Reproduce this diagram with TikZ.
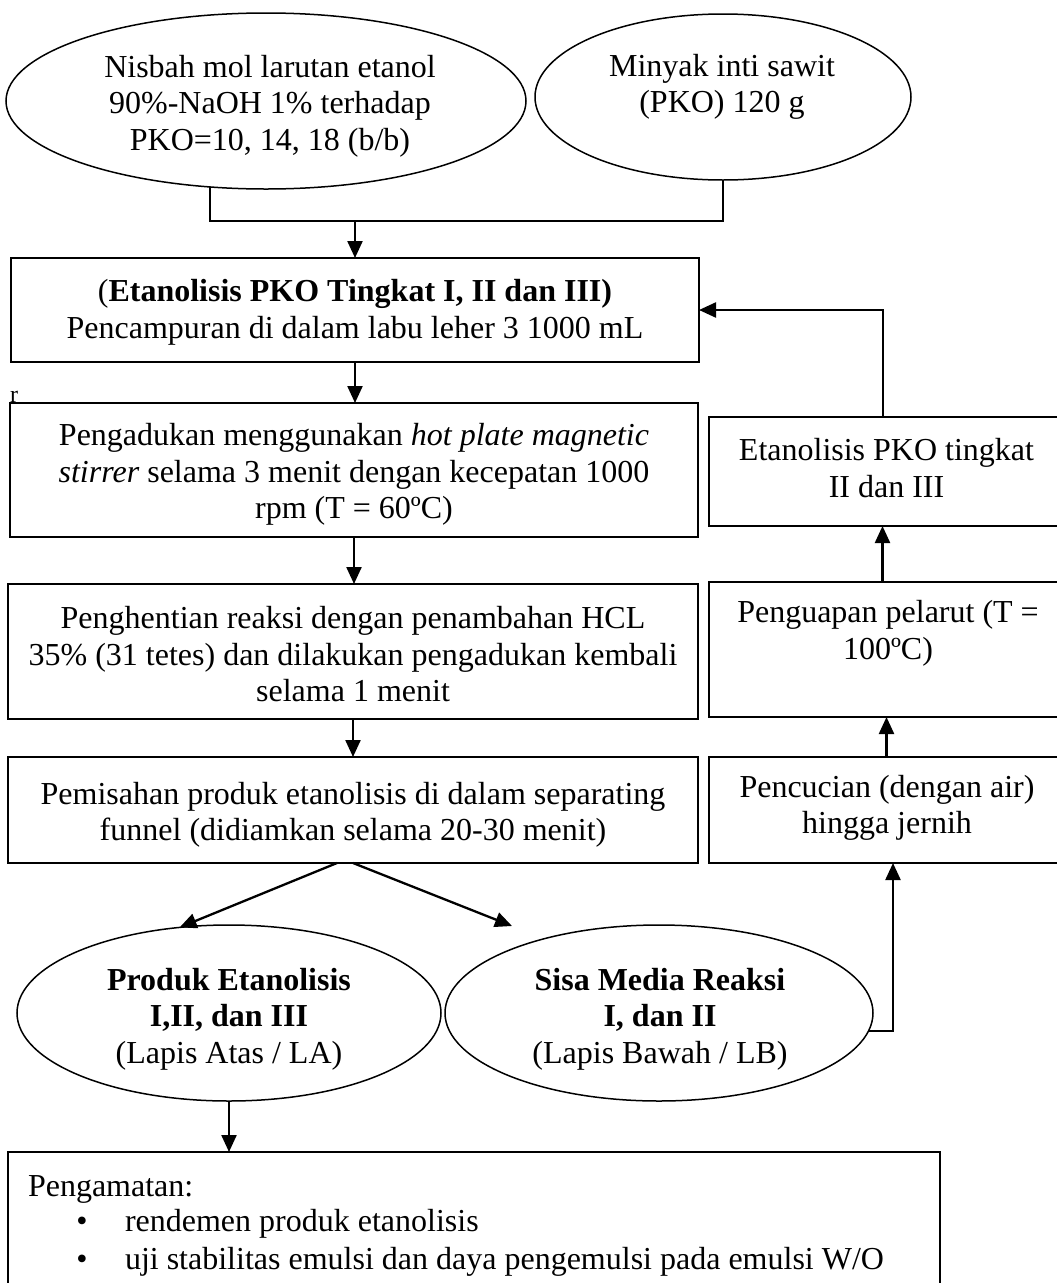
\documentclass[tikz,border=0pt]{standalone}
\usepackage{fontspec}
\setmainfont{Liberation Serif}
\usetikzlibrary{arrows.meta,shapes.geometric,calc}
\begin{document}
\begin{tikzpicture}[x=1pt,y=-1pt,
  every node/.style={font=\fontsize{32}{36.5}\selectfont, inner sep=0pt, outer sep=0pt},
  box/.style={draw, line width=1.8pt, rectangle},
  ell/.style={draw, line width=1.5pt, ellipse},
  txt/.style={align=center},
  link/.style={line width=1.7pt},
  arr/.style={line width=2.3pt, -{Triangle[length=17pt,width=15pt]}}
]
\useasboundingbox (0,0) rectangle (1057,1283);

% top ellipses
\node[ell, minimum width=520pt, minimum height=176pt] (e1) at (266,101) {};
\node[txt] (e1t) at (270,106) {Nisbah mol larutan etanol\\90\%-NaOH 1\% terhadap\\PKO=10, 14, 18 (b/b)};
\node[ell, minimum width=376pt, minimum height=166pt] (e2) at (723,97) {};
\node[txt] (e2t) at (722,87) {Minyak inti sawit\\(PKO) 120 g};

% main column
\node[box, minimum width=688pt, minimum height=104pt] (b1) at (355,310) {};
\node[txt] (b1t) at ($(b1)+(0,2.5)$)
  {(\textbf{Etanolisis PKO Tingkat I, II dan III)}\\Pencampuran di dalam labu leher 3 1000 mL};
\node[anchor=base west, font=\fontsize{24}{28}\selectfont] (rr) at (10,402) {r};
\node[box, minimum width=688pt, minimum height=134pt] (b2) at (354,470) {};
\node[txt] (b2t) at ($(b2)+(0,4.4)$)
  {Pengadukan menggunakan \textit{hot plate magnetic}\\\textit{stirrer} selama 3 menit dengan kecepatan 1000\\rpm (T = 60ºC)};
\node[box, minimum width=690pt, minimum height=135pt] (b3) at (353,651.5) {};
\node[txt] (b3t) at ($(b3)+(0,3)$)
  {Penghentian reaksi dengan penambahan HCL\\35\% (31 tetes) dan dilakukan pengadukan kembali\\selama 1 menit};
\node[box, minimum width=690pt, minimum height=106pt] (b4) at (353,810) {};
\node[txt] (b4t) at ($(b4)+(0,5)$)
  {Pemisahan produk etanolisis di dalam separating\\funnel (didiamkan selama 20-30 menit)};

% right column
\node[box, minimum width=355pt, minimum height=109pt] (r1) at (886.5,471.5) {};
\node[txt] (r1t) at (886.5,468) {Etanolisis PKO tingkat\\II dan III};
\node[box, minimum width=355pt, minimum height=135pt] (r2) at (886.5,649.5) {};
\node[txt] (r2t) at (888,633.5) {Penguapan pelarut (T =\\100ºC)};
\node[box, minimum width=355pt, minimum height=106pt] (r3) at (886.5,810) {};
\node[txt] (r3t) at (887,808) {Pencucian (dengan air)\\hingga jernih};

% bottom ellipses
\node[ell, minimum width=424pt, minimum height=176pt] (eb1) at (229,1013) {};
\node[txt] (eb1t) at (229,1019) {\textbf{Produk Etanolisis}\\\textbf{I,II, dan III}\\(Lapis Atas / LA)};
\node[ell, minimum width=428pt, minimum height=176pt] (eb2) at (659,1013) {};
\node[txt] (eb2t) at (660,1019) {\textbf{Sisa Media Reaksi}\\\textbf{I, dan II}\\(Lapis Bawah / LB)};

% observation box
\node[box, minimum width=932pt, minimum height=148pt] (b5) at (474,1226) {};
\node[anchor=base west] (p0) at (28,1196) {Pengamatan:};
\node[anchor=base] (u1) at (82,1231) {•};
\node[anchor=base west] (p1) at (125,1231) {rendemen produk etanolisis};
\node[anchor=base] (u2) at (82,1269) {•};
\node[anchor=base west] (p2) at (125,1269) {uji stabilitas emulsi dan daya pengemulsi pada emulsi W/O};

% connectors
\coordinate (j1) at (211,221);
\coordinate (t2) at (512,926);
\draw[link] (e1.237) |- (j1) -| (e2.south);
\draw[arr] (b1.north |- j1) -- (b1.north);
\draw[arr] (b1.south) -- (b1.south |- b2.north);
\draw[arr] (b2.south) -- (b2.south |- b3.north);
\draw[arr] (b3.south) -- (b3.south |- b4.north);
\draw[arr] ($(b4.south)+(-16,0)$) -- (eb1.120);
\draw[arr] (b4.south) -- (t2);
\draw[arr] (eb1.south) -- (eb1.south |- b5.north);
\draw[arr] (eb2.355) -| ($(r3.south)+(6.5,0)$);
\draw[arr] (r3.north) -- (r2.south);
\draw[arr] ($(r2.north)+(-4,0)$) -- ($(r1.south)+(-4,0)$);
\draw[arr] ($(r1.north)+(-3.5,0)$) |- (b1.east);
\end{tikzpicture}
\end{document}
